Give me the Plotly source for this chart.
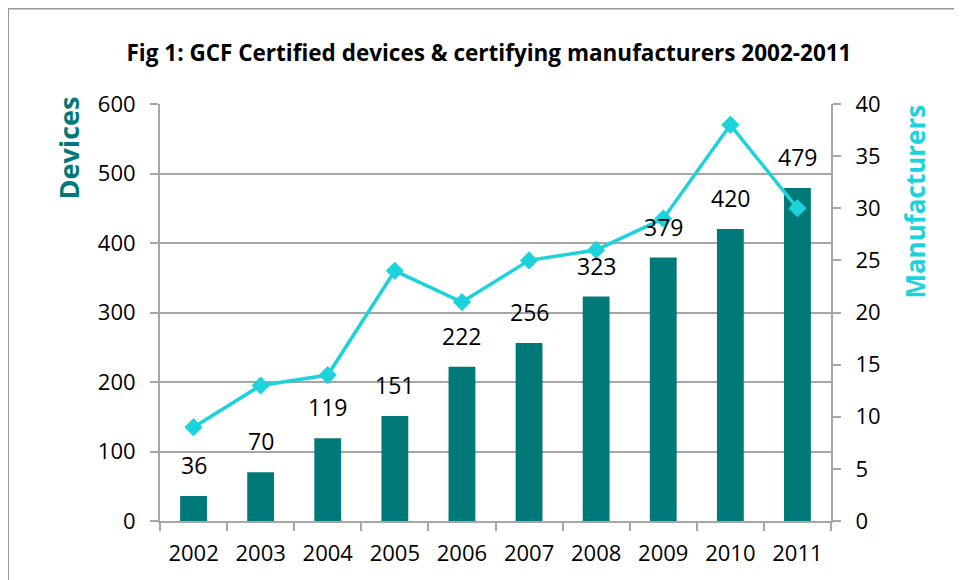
import plotly.graph_objects as go

years = [2002, 2003, 2004, 2005, 2006, 2007, 2008, 2009, 2010, 2011]
devices = [36, 70, 119, 151, 222, 256, 323, 379, 420, 479]
manufacturers = [9, 13, 14, 24, 21, 25, 26, 29, 38, 30]

TEAL = "#007A78"
CYAN = "#1DD3DB"
GRID = "#A6A6A6"
FONT = "Open Sans, Liberation Sans, sans-serif"

fig = go.Figure()

fig.add_trace(
    go.Bar(
        x=years,
        y=devices,
        marker=dict(color=TEAL, line=dict(width=0)),
        name="Devices",
        yaxis="y",
    )
)

fig.add_trace(
    go.Scatter(
        x=years,
        y=manufacturers,
        mode="lines+markers",
        line=dict(color=CYAN, width=3.5),
        marker=dict(symbol="diamond", size=14, color=CYAN),
        name="Manufacturers",
        yaxis="y2",
    )
)

# value labels above the bars
for yr, val in zip(years, devices):
    fig.add_annotation(
        x=yr, y=val, xref="x", yref="y", text=str(val), showarrow=False,
        yanchor="bottom", yshift=13, font=dict(size=23, color="black", family=FONT),
    )

# axis titles placed at the top like the original
fig.add_annotation(
    x=-0.137, y=1.022, xref="paper", yref="paper", text="<b>Devices</b>",
    showarrow=False, textangle=-90, xanchor="center", yanchor="top",
    font=dict(size=27, color=TEAL, family=FONT),
)
fig.add_annotation(
    x=1.125, y=1.003, xref="paper", yref="paper", text="<b>Manufacturers</b>",
    showarrow=False, textangle=-90, xanchor="center", yanchor="top",
    font=dict(size=26, color=CYAN, family=FONT),
)

fig.update_layout(
    width=962,
    height=580,
    margin=dict(l=152, r=139, t=96, b=67),
    paper_bgcolor="white",
    plot_bgcolor="white",
    showlegend=False,
    bargap=0.6,
    title=dict(
        text="<b>Fig 1: GCF Certified devices & certifying manufacturers 2002-2011</b>",
        x=0.5, xanchor="center", y=0.922, yanchor="middle",
        font=dict(size=22.5, color="black", family=FONT),
    ),
    font=dict(family=FONT, color="black"),
    xaxis=dict(
        type="linear", range=[years[0] - 0.5, years[-1] + 0.5], dtick=1,
        showline=True, linecolor=GRID, linewidth=2, ticks="", ticklabelstandoff=12,
        minor=dict(tick0=years[0] - 0.5, dtick=1, ticks="outside", ticklen=8,
                   tickcolor=GRID, tickwidth=2, showgrid=False),
        tickfont=dict(size=22), showgrid=False, zeroline=False,
    ),
    yaxis=dict(
        range=[0, 600], dtick=100, showline=True, linecolor=GRID, linewidth=2,
        ticks="outside", tickcolor=GRID, ticklen=8, tickwidth=2, ticklabelstandoff=10,
        showgrid=True, gridcolor=GRID, gridwidth=2, tickfont=dict(size=22),
        zeroline=False,
    ),
    yaxis2=dict(
        range=[0, 40], dtick=5, overlaying="y", side="right", showline=True,
        linecolor=GRID, linewidth=2, ticks="outside", tickcolor=GRID, ticklen=8,
        tickwidth=2, ticklabelstandoff=10, showgrid=False, tickfont=dict(size=22),
        zeroline=False,
    ),
    shapes=[
        dict(type="line", xref="paper", yref="paper", x0=-0.2265, x1=1.3, y0=1.229, y1=1.229,
             line=dict(color="#9A9A9A", width=2)),
        dict(type="line", xref="paper", yref="paper", x0=-0.2265, x1=-0.2265, y0=1.229, y1=-0.3,
             line=dict(color="#9A9A9A", width=2)),
    ],
)

fig.write_html("out.html")
